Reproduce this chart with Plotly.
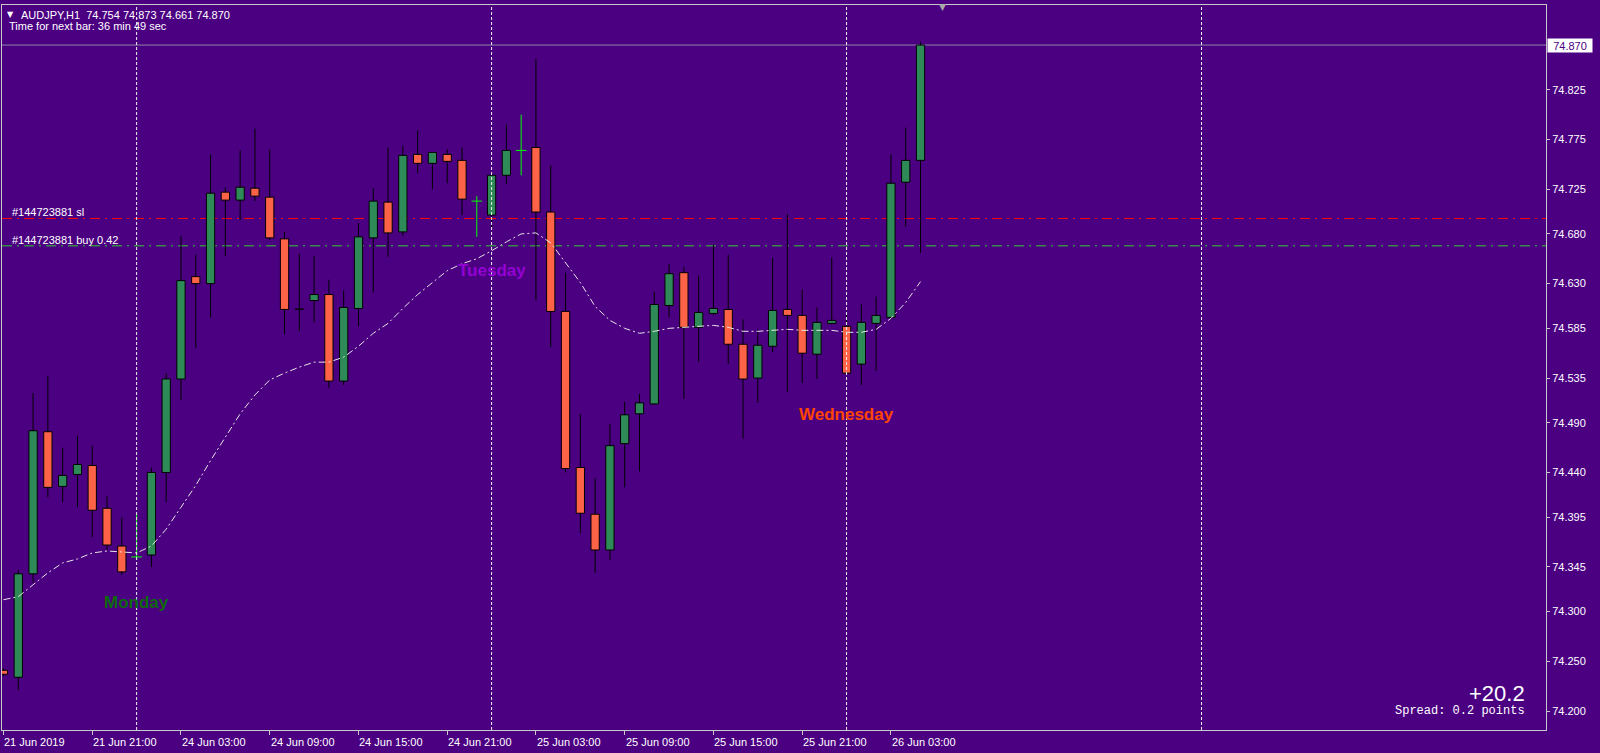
import plotly.graph_objects as go

# ---------------- data ----------------
bar_index = list(range(63))
opens = [74.241, 74.234, 74.338, 74.481, 74.426, 74.438, 74.447, 74.404, 74.366, 74.355,
         74.357, 74.440, 74.534, 74.637, 74.630, 74.722, 74.714, 74.726, 74.717, 74.675,
         74.6045, 74.613, 74.619, 74.532, 74.605, 74.676, 74.712, 74.682, 74.760, 74.751,
         74.760, 74.754, 74.713, 74.699, 74.739, 74.764, 74.767, 74.702, 74.602, 74.445,
         74.398, 74.362, 74.469, 74.499, 74.509, 74.608, 74.641, 74.586, 74.600, 74.604,
         74.569, 74.535, 74.567, 74.604, 74.598, 74.559, 74.590, 74.587, 74.549, 74.590,
         74.596, 74.732, 74.754]
highs = [74.243, 74.342, 74.520, 74.537, 74.465, 74.477, 74.467, 74.416, 74.395, 74.398,
         74.445, 74.540, 74.678, 74.659, 74.760, 74.727, 74.764, 74.786, 74.765, 74.682,
         74.660, 74.658, 74.634, 74.623, 74.691, 74.726, 74.767, 74.769, 74.784, 74.762,
         74.765, 74.767, 74.718, 74.741, 74.790, 74.800, 74.856, 74.749, 74.641, 74.499,
         74.434, 74.489, 74.511, 74.519, 74.622, 74.650, 74.647, 74.638, 74.669, 74.659,
         74.594, 74.584, 74.656, 74.700, 74.624, 74.606, 74.656, 74.602, 74.609, 74.617,
         74.760, 74.787, 74.873]
lows = [74.235, 74.221, 74.329, 74.415, 74.410, 74.405, 74.375, 74.362, 74.337, 74.352,
        74.345, 74.410, 74.513, 74.565, 74.596, 74.658, 74.694, 74.713, 74.674, 74.579,
        74.582, 74.591, 74.525, 74.528, 74.587, 74.621, 74.657, 74.678, 74.741, 74.725,
        74.731, 74.699, 74.677, 74.685, 74.730, 74.739, 74.613, 74.566, 74.440, 74.379,
        74.339, 74.352, 74.425, 74.441, 74.508, 74.596, 74.514, 74.551, 74.598, 74.549,
        74.474, 74.510, 74.561, 74.521, 74.530, 74.534, 74.589, 74.539, 74.528, 74.542,
        74.594, 74.687, 74.661]
closes = [74.237, 74.338, 74.482, 74.425, 74.437, 74.448, 74.402, 74.367, 74.340, 74.355,
          74.440, 74.534, 74.633, 74.630, 74.721, 74.714, 74.727, 74.718, 74.676, 74.604,
          74.604, 74.619, 74.532, 74.606, 74.677, 74.713, 74.681, 74.759, 74.751, 74.762,
          74.753, 74.715, 74.713, 74.739, 74.764, 74.764, 74.702, 74.602, 74.444, 74.399,
          74.362, 74.467, 74.498, 74.510, 74.609, 74.640, 74.586, 74.601, 74.605, 74.569,
          74.534, 74.568, 74.603, 74.598, 74.560, 74.591, 74.593, 74.540, 74.591, 74.598,
          74.731, 74.754, 74.870]
ma_values = [74.312, 74.315, 74.327, 74.339, 74.349, 74.353, 74.359, 74.361, 74.360, 74.359,
             74.366, 74.383, 74.405, 74.427, 74.452, 74.476, 74.499, 74.518, 74.533, 74.540,
             74.546, 74.551, 74.551, 74.556, 74.567, 74.580, 74.590, 74.605, 74.619, 74.631,
             74.643, 74.650, 74.655, 74.663, 74.672, 74.680, 74.681, 74.671, 74.651, 74.631,
             74.607, 74.593, 74.585, 74.580, 74.582, 74.585, 74.586, 74.587, 74.588, 74.586,
             74.582, 74.582, 74.583, 74.584, 74.583, 74.583, 74.583, 74.581, 74.581, 74.584,
             74.595, 74.611, 74.632]

x_tick_index = [0, 6, 12, 18, 24, 30, 36, 42, 48, 54, 60]
x_tick_labels = ["21 Jun 2019", "21 Jun 21:00", "24 Jun 03:00", "24 Jun 09:00", "24 Jun 15:00",
                 "24 Jun 21:00", "25 Jun 03:00", "25 Jun 09:00", "25 Jun 15:00", "25 Jun 21:00",
                 "26 Jun 03:00"]
separator_index = [9, 33, 57, 81]

day_names = ["Monday", "Tuesday", "Wednesday"]
day_index = [9, 33, 57]
day_price = [74.309, 74.643, 74.498]
day_colors = ["#0B6B0B", "#9400D3", "#FF4500"]

y_tick_values = [74.200, 74.250, 74.300, 74.345, 74.395, 74.440, 74.490, 74.535,
                 74.585, 74.630, 74.680, 74.725, 74.775, 74.825]
y_tick_labels = ["%.3f" % v for v in y_tick_values]

sl_price = 74.6955
buy_price = 74.668
last_price = 74.870
header_text = "AUDJPY,H1\u00a0\u00a074.754 74.873 74.661 74.870"
timer_text = "Time for next bar: 36 min 49 sec"
sl_label = "#144723881 sl"
buy_label = "#144723881 buy 0.42"
profit_text = "+20.2"
spread_text = "Spread: 0.2 points"

# ---------------- styling ----------------
BG = "#4B0082"
UP = "#2E8B57"
DOWN = "#FF6347"
DOJI = "#00FF00"
AXIS = "#C8C8C8"
FONT = "Liberation Sans, Arial, sans-serif"
Y_RANGE = [74.1809, 74.9103]
X_RANGE = [-0.101, 104.29]
BODY_W = 0.56

fig = go.Figure()

# split candles
up_x, up_base, up_h = [], [], []
dn_x, dn_base, dn_h = [], [], []
wick_x, wick_y = [], []
doji_x, doji_y = [], []
for i, o, h, l, c in zip(bar_index, opens, highs, lows, closes):
    if o == c:
        doji_x += [i, i, None, i - 0.36, i + 0.36, None]
        doji_y += [l, h, None, o, o, None]
        continue
    top, bot = max(o, c), min(o, c)
    if c > o:
        up_x.append(i); up_base.append(bot); up_h.append(top - bot)
    else:
        dn_x.append(i); dn_base.append(bot); dn_h.append(top - bot)
    if h > top:
        wick_x += [i, i, None]; wick_y += [top, h, None]
    if l < bot:
        wick_x += [i, i, None]; wick_y += [l, bot, None]

fig.add_trace(go.Scatter(x=wick_x, y=wick_y, mode="lines",
                         line=dict(color="#000000", width=1), hoverinfo="skip"))
fig.add_trace(go.Bar(x=up_x, y=up_h, base=up_base, width=BODY_W,
                     marker=dict(color=UP, line=dict(color="#000000", width=1)),
                     hoverinfo="skip"))
fig.add_trace(go.Bar(x=dn_x, y=dn_h, base=dn_base, width=BODY_W,
                     marker=dict(color=DOWN, line=dict(color="#000000", width=1)),
                     hoverinfo="skip"))
fig.add_trace(go.Scatter(x=doji_x, y=doji_y, mode="lines",
                         line=dict(color=DOJI, width=1), hoverinfo="skip"))
fig.add_trace(go.Scatter(x=bar_index, y=ma_values, mode="lines",
                         line=dict(color="#E6E6E6", width=1, dash="7px,3px,2px,3px"),
                         hoverinfo="skip"))

shapes = []
# order levels (below candles)
shapes.append(dict(type="line", xref="paper", x0=0, x1=1, yref="y", y0=sl_price, y1=sl_price,
                   line=dict(color="#FF0000", width=1, dash="10px,5px,2px,5px"), layer="below"))
shapes.append(dict(type="line", xref="paper", x0=0, x1=1, yref="y", y0=buy_price, y1=buy_price,
                   line=dict(color="#32CD32", width=1, dash="10px,5px,2px,5px"), layer="below"))
shapes.append(dict(type="line", xref="paper", x0=0, x1=1, yref="y", y0=last_price, y1=last_price,
                   line=dict(color="#8F86AA", width=1), layer="below"))
# period separators
for s in separator_index:
    shapes.append(dict(type="line", xref="x", x0=s, x1=s, yref="paper", y0=0, y1=1,
                       line=dict(color="#F0F0F0", width=1, dash="3px,2px"), layer="above"))

annotations = []
for xi, lab in zip(x_tick_index, x_tick_labels):
    annotations.append(dict(x=xi, xref="x", y=0, yref="paper", yshift=-12, xshift=-1,
                            xanchor="left", yanchor="middle", text=lab, showarrow=False,
                            font=dict(family=FONT, size=11, color="white")))
for name, xi, pr, col in zip(day_names, day_index, day_price, day_colors):
    annotations.append(dict(x=xi, xref="x", y=pr, yref="y", text="<b>%s</b>" % name,
                            showarrow=False, xanchor="center", yanchor="middle",
                            font=dict(family=FONT, size=17, color=col)))

def px_annot(text, px, py, size=11, color="white", anchor="left", family=FONT):
    return dict(x=0, xref="paper", xshift=px - 2, y=1, yref="paper", yshift=-(py - 5),
                xanchor=anchor, yanchor="middle", text=text, showarrow=False,
                font=dict(family=family, size=size, color=color))

annotations.append(px_annot("\u25BC", 10, 14, size=8, color="white", anchor="center",
                            family="DejaVu Sans"))
annotations.append(px_annot(header_text, 19, 14.5))
annotations.append(px_annot(timer_text, 7, 26))
annotations.append(px_annot(sl_label, 10, 212))
annotations.append(px_annot(buy_label, 10, 239.5))
annotations.append(px_annot("\u25BC", 942, 7, size=9, color="#A8A8A8", anchor="center",
                            family="DejaVu Sans"))
annotations.append(px_annot(profit_text, 1527, 693, size=22, anchor="right"))
annotations.append(px_annot(spread_text, 1527, 711, size=12, anchor="right",
                            family="Liberation Mono, Courier New, monospace"))
# current price label on the price axis
annotations.append(dict(x=1, xref="paper", xshift=1, y=last_price, yref="y",
                        xanchor="left", yanchor="middle", text="%.3f" % last_price,
                        showarrow=False, bgcolor="white", width=42, height=11,
                        borderpad=1, align="center",
                        font=dict(family=FONT, size=11, color=BG)))

fig.update_layout(
    width=1600, height=753,
    margin=dict(l=2, r=54, t=5, b=23),
    paper_bgcolor=BG, plot_bgcolor=BG,
    showlegend=False, barmode="overlay", bargap=0,
    hovermode=False,
    xaxis=dict(range=X_RANGE, showgrid=False, zeroline=False, showline=True,
               linecolor=AXIS, linewidth=1, mirror=True, tickvals=x_tick_index,
               ticks="outside", ticklen=4, tickcolor=AXIS, showticklabels=False,
               fixedrange=True),
    yaxis=dict(range=Y_RANGE, side="right", showgrid=False, zeroline=False,
               showline=True, linecolor=AXIS, linewidth=1, mirror=True,
               tickvals=y_tick_values, ticktext=y_tick_labels, ticks="outside",
               ticklen=3, tickcolor=AXIS,
               tickfont=dict(family=FONT, size=11, color="white"), fixedrange=True),
    shapes=shapes,
    annotations=annotations,
)

fig.write_html("out.html", config={"displayModeBar": False, "staticPlot": True},
               post_script="document.body.style.margin='0';document.body.style.overflow='hidden';")
